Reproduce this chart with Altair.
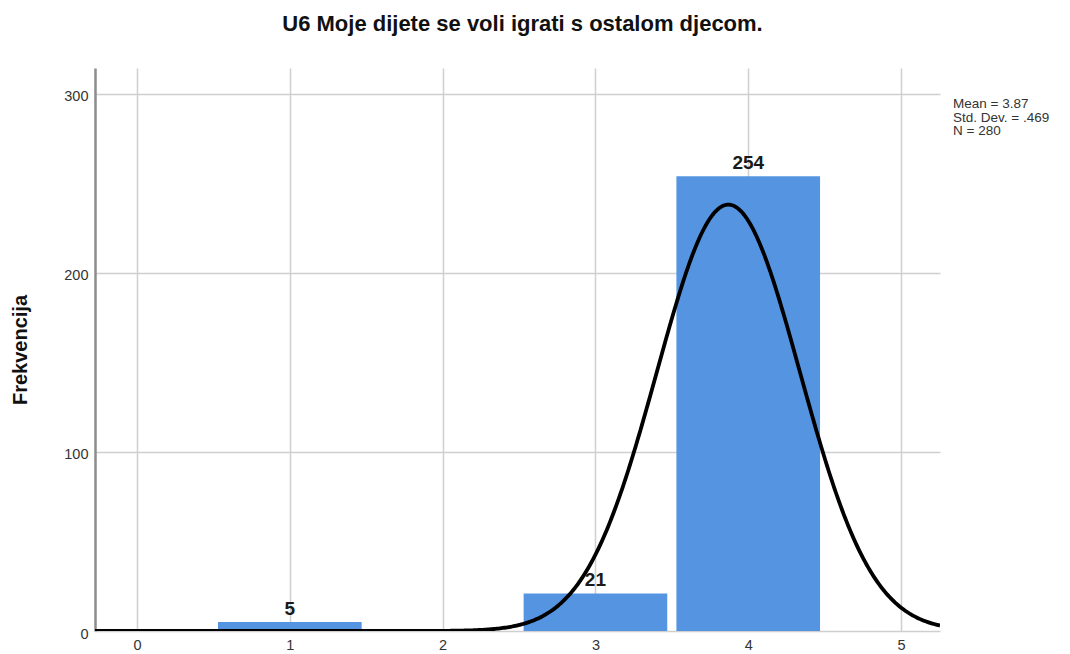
import altair as alt
import pandas as pd

# ---- data ----
categories = [1, 3, 4]
counts = [5, 21, 254]
x_ticks = [0, 1, 2, 3, 4, 5]
y_ticks = [0, 100, 200, 300]
mean_val = [3.87]
sd_val = [0.469]
n_val = [280]
stats_lines = ["Mean = 3.87", "Std. Dev. = .469", "N = 280"]
title_text = "U6 Moje dijete se voli igrati s ostalom djecom."
y_title = "Frekvencija"

FONT = "Liberation Sans"
X_DOM = [-0.275, 5.255]
Y_DOM = [0, 314.5]
BAR_HALF = 0.47

bars_df = pd.DataFrame({"cat": categories, "count": counts})
bars_df["x1"] = bars_df["cat"] - BAR_HALF
bars_df["x2"] = bars_df["cat"] + BAR_HALF

xs = alt.Scale(domain=X_DOM, nice=False, zero=False)
ys = alt.Scale(domain=Y_DOM, nice=False, zero=False)

x_axis = alt.Axis(values=x_ticks, title=None, grid=True, labelFontSize=14.5,
                  labelPadding=7, ticks=False, domain=False, format="d")
y_axis = alt.Axis(values=y_ticks, title=y_title, grid=True, labelFontSize=14.5,
                  labelPadding=7, labelOffset=3, ticks=False, domain=True,
                  domainColor="#8c8c8c", domainWidth=2.5, titleFontSize=20,
                  titleFontWeight="bold", titlePadding=33, titleColor="#111", format="d")

base = alt.Chart(bars_df)

bars = base.mark_bar(color="#5594e0").encode(
    x=alt.X("x1:Q", scale=xs, axis=x_axis, title=None),
    x2="x2:Q",
    y=alt.Y("count:Q", scale=ys, axis=y_axis, title=y_title),
    y2=alt.datum(0),
)

labels = base.mark_text(font=FONT, fontSize=19, fontWeight="bold", color="#1a1a1a",
                        baseline="alphabetic", dy=-7).encode(
    x=alt.X("cat:Q", scale=xs, axis=x_axis, title=None),
    y=alt.Y("count:Q", scale=ys, axis=y_axis, title=y_title),
    text=alt.Text("count:Q"),
)

seq = alt.sequence(X_DOM[0], X_DOM[1] + 0.005, 0.01, as_="xv")
curve = (
    alt.Chart(seq)
    .transform_calculate(
        yv=f"{n_val[0]} * 1 / ({sd_val[0]} * sqrt(2 * PI)) * exp(-0.5 * pow((datum.xv - {mean_val[0]}) / {sd_val[0]}, 2))"
    )
    .mark_line(color="black", strokeWidth=3.8, clip=True)
    .encode(x=alt.X("xv:Q", scale=xs, axis=x_axis, title=None),
            y=alt.Y("yv:Q", scale=ys, axis=y_axis, title=y_title))
)

stats_df = pd.DataFrame({"t": ["\n".join(stats_lines)]})
stats = alt.Chart(stats_df).mark_text(
    font=FONT, fontSize=13.5, color="#333", align="left", baseline="top", lineHeight=13.5,
    lineBreak="\n",
).encode(x=alt.value(858), y=alt.value(29), text="t:N")

chart = (
    alt.layer(bars, curve, labels, stats)
    .properties(
        width=845, height=563,
        padding={"left": 87, "top": 60, "right": 122, "bottom": 22},
        autosize=alt.AutoSizeParams(type="none"),
        title=alt.TitleParams(title_text, fontSize=22, fontWeight="bold", font=FONT,
                              color="#111", anchor="middle", offset=32, dx=5),
    )
    .configure(font=FONT)
    .configure_view(stroke=None)
    .configure_axis(gridColor="#cfcfcf", gridWidth=1.5, labelColor="#333", labelFont=FONT,
                    titleFont=FONT)
)

chart.save("out.html", embed_options={"renderer": "svg", "actions": False})
